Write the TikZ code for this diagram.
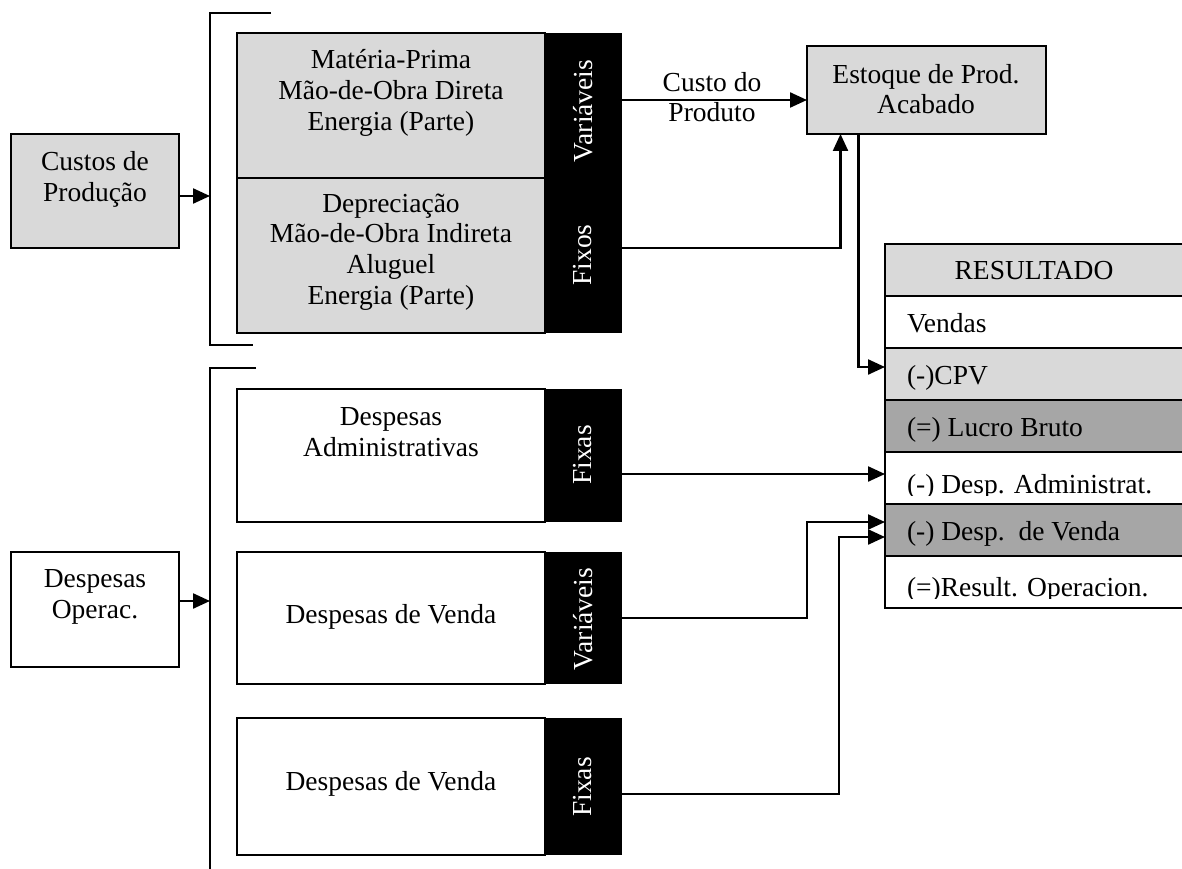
\documentclass[tikz,border=0pt]{standalone}
\usepackage{fontspec}
\setmainfont{Liberation Serif}
\usetikzlibrary{arrows.meta,calc}
\definecolor{lg}{HTML}{D9D9D9}
\definecolor{dg}{HTML}{A6A6A6}
\begin{document}
\begin{tikzpicture}[x=1pt,y=-1pt,
 every node/.style={font=\fontsize{27.5}{30.8}\selectfont, inner sep=0pt, outer sep=0pt},
 box/.style={draw, line width=2pt, anchor=north west, inner sep=0pt},
 band/.style={fill=black, anchor=north west, inner sep=0pt},
 vlab/.style={text=white, rotate=90},
 txt/.style={align=center},
 rowbox/.style={draw, line width=2pt, anchor=north west, minimum width=320pt, minimum height=52pt},
 rowtxt/.style={anchor=base west},
 conn/.style={line width=2.3pt, -{Triangle[length=17pt,width=15pt]}},
 brk/.style={line width=2pt},
]
\useasboundingbox (0,0) rectangle (1182,869);

% ---- Custos de Produção
\node[box, fill=lg, minimum width=168pt, minimum height=114pt] (cp) at (11,134) {};
\node[txt] (cpt) at (95,179) {Custos de\\Produção};
\coordinate (b1) at (210,196);
\draw[conn] (cp.east |- b1) -- (b1);
\draw[brk] (271,13) -- (210,13) -- (210,345) -- (253,345);

% ---- upper blocks
\node[box, fill=lg, minimum width=308pt, minimum height=145pt] (v1) at (237,33) {};
\node[box, fill=lg, minimum width=308pt, minimum height=155pt] (f1) at (237,178) {};
\node[band, minimum width=77pt, minimum height=145pt] (bv1) at (545,33) {};
\node[band, minimum width=77pt, minimum height=155pt] (bf1) at (545,178) {};
\node[txt] (v1t) at (391,93) {Matéria-Prima\\Mão-de-Obra Direta\\Energia (Parte)};
\node[txt] (f1t) at (391,252) {Depreciação\\Mão-de-Obra Indireta\\Aluguel\\Energia (Parte)};
\node[vlab] (bv1t) at (583,111) {Variáveis};
\node[vlab] (bf1t) at (583,255) {Fixos};

% ---- Estoque
\node[box, fill=lg, minimum width=239pt, minimum height=88pt] (est) at (807,46) {};
\node[txt] (estt) at (926,89) {Estoque de Prod.\\Acabado};
\coordinate (pv) at (622,100);
\coordinate (pf) at (622,248);
\draw[conn] (bv1.east |- pv) -- (est.west |- pv);
\node[txt] (cdp) at (712,97) {Custo do\\Produto};
\draw[conn] (bf1.east |- pf) -| ([xshift=-86pt]est.south);

% ---- Despesas Operac.
\node[box, fill=white, minimum width=168pt, minimum height=115pt] (dop) at (11,552) {};
\node[txt] (dopt) at (95,597) {Despesas\\Operac.};
\coordinate (b2) at (210,601);
\draw[conn] (dop.east |- b2) -- (b2);
\draw[brk] (256,368) -- (210,368) -- (210,869);

% ---- lower blocks
\node[box, fill=white, minimum width=308pt, minimum height=133pt] (da) at (237,389) {};
\node[band, minimum width=77pt, minimum height=133pt] (bda) at (545,389) {};
\node[txt] (dat) at (391,432) {Despesas\\Administrativas};
\node[vlab] (bdat) at (583,455) {Fixas};

\node[box, fill=white, minimum width=308pt, minimum height=132pt] (dv) at (237,552) {};
\node[band, minimum width=77pt, minimum height=132pt] (bdv) at (545,552) {};
\node[txt] (dvt) at (391,617) {Despesas de Venda};
\node[vlab] (bdvt) at (583,619) {Variáveis};

\node[box, fill=white, minimum width=308pt, minimum height=137pt] (df) at (237,718) {};
\node[band, minimum width=77pt, minimum height=137pt] (bdf) at (545,718) {};
\node[txt] (dft) at (391,784) {Despesas de Venda};
\node[vlab] (bdft) at (583,787) {Fixas};

% ---- RESULTADO table
\node[rowbox, fill=lg] (r0) at (885,244) {};
\node[rowbox, fill=white] (r1) at (885,296) {};
\node[rowbox, fill=lg] (r2) at (885,348) {};
\node[rowbox, fill=dg] (r3) at (885,400) {};
\node[rowbox, fill=white] (r4) at (885,452) {};
\node[rowbox, fill=dg] (r5) at (885,504) {};
\node[rowbox, fill=white] (r6) at (885,556) {};
\node (r0t) at (1034,271) {RESULTADO};
\node[rowtxt] (r1t) at (907,332) {Vendas};
\node[rowtxt] (r2t) at (907,384) {(-)CPV};
\node[rowtxt] (r3t) at (907,436) {(=) Lucro Bruto};
\begin{scope}
\clip (885,454) rectangle (1182,495);
\node[rowtxt] (r4t) at (907,493) {(-) Desp. Administrat.};
\end{scope}
\node[rowtxt] (r5t) at (907,540) {(-) Desp.\ \ de Venda};
\begin{scope}
\clip (885,558) rectangle (1182,598);
\node[rowtxt] (r6t) at (907,596) {(=)Result. Operacion.};
\end{scope}

% ---- connectors into table
\coordinate (cpvin) at (885,367);
\coordinate (ain) at (885,474);
\coordinate (vin) at (885,522);
\coordinate (fin) at (885,537);
\coordinate (pdv) at (622,618);
\coordinate (pdf) at (622,794);
\draw[conn] ([xshift=-68pt]est.south) |- (r2.west |- cpvin);
\draw[conn] (bda.east |- ain) -- (r4.west |- ain);
\draw[conn] (bdv.east |- pdv) -| (807,522) -- (r5.west |- vin);
\draw[conn] (bdf.east |- pdf) -| (839,537) -- (r5.west |- fin);
\end{tikzpicture}
\end{document}
